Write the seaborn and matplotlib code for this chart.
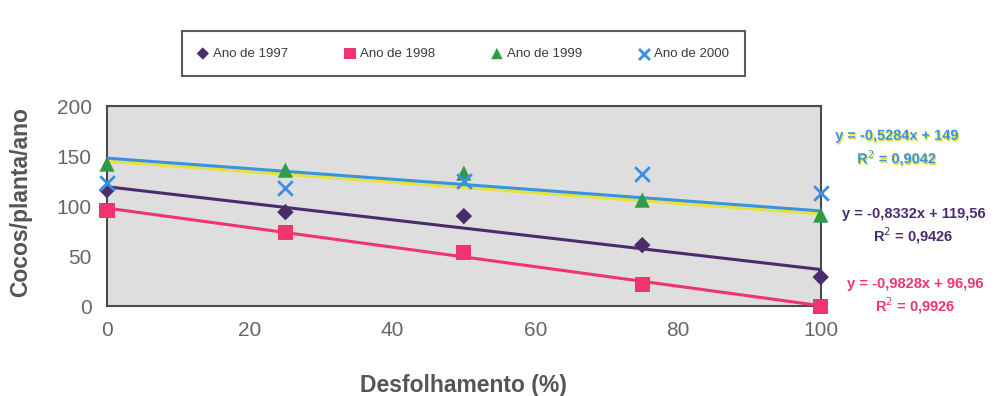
import matplotlib
matplotlib.use("Agg")
import matplotlib.pyplot as plt
import matplotlib.patheffects as pe
from matplotlib.transforms import offset_copy
import pandas as pd
import seaborn as sns

# dados
desfolha = [0, 25, 50, 75, 100]
ano_1997 = [116, 94, 90, 61, 29]
ano_1998 = [96, 74, 54, 22, 0]
ano_1999 = [142, 136, 133, 106, 91]
ano_2000 = [123, 118, 125, 132, 113]

series = {
    "Ano de 1997": ano_1997,
    "Ano de 1998": ano_1998,
    "Ano de 1999": ano_1999,
    "Ano de 2000": ano_2000,
}
equacoes = {
    "Ano de 1999": ("y = -0,5284x + 149", "R$^2$ = 0,9042"),
    "Ano de 1997": ("y = -0,8332x + 119,56", "R$^2$ = 0,9426"),
    "Ano de 1998": ("y = -0,9828x + 96,96", "R$^2$ = 0,9926"),
}

df = pd.DataFrame([(x, y, nome) for nome, vals in series.items() for x, y in zip(desfolha, vals)],
                  columns=["Desfolhamento", "Cocos", "Ano"])

sns.set_style("white")
plt.rcParams["font.family"] = ["Liberation Sans", "DejaVu Sans"]

estilo = {
    "Ano de 1997": dict(marker="D", color="#4a2c6c", s=70),
    "Ano de 1998": dict(marker="s", color="#f0346e", s=120),
    "Ano de 1999": dict(marker="^", color="#2f9a48", s=120),
    "Ano de 2000": dict(marker="x", color="#3b8fe2", s=110, linewidths=2),
}
cor_linha = {"Ano de 1997": "#4a2c6c", "Ano de 1998": "#f0346e", "Ano de 1999": "#3a92e0"}

fig = plt.figure(figsize=(9.96, 3.96), dpi=100)
ax = fig.add_axes([0.1074, 0.227, 0.7166, 0.505])
ax.set_facecolor("#dedede")

# linhas de tendência
for nome in ["Ano de 1999", "Ano de 1997", "Ano de 1998"]:
    sub = df[df["Ano"] == nome]
    if nome == "Ano de 1999":
        # sombra amarela (impressão desalinhada)
        sombra = offset_copy(ax.transData, fig=fig, x=0, y=-3, units="dots")
        sns.regplot(data=sub, x="Desfolhamento", y="Cocos", ax=ax, scatter=False, ci=None,
                    line_kws=dict(color="#e6e23a", lw=2.2, transform=sombra, zorder=2))
    sns.regplot(data=sub, x="Desfolhamento", y="Cocos", ax=ax, scatter=False, ci=None,
                line_kws=dict(color=cor_linha[nome], lw=2.2, zorder=3))

# pontos
for nome in series:
    sub = df[df["Ano"] == nome]
    sns.scatterplot(data=sub, x="Desfolhamento", y="Cocos", ax=ax, label=nome,
                    edgecolor="none" if estilo[nome]["marker"] != "x" else None,
                    clip_on=False, zorder=5, **estilo[nome])

ax.set_xlim(0, 100)
ax.set_ylim(0, 200)
ax.set_xticks([0, 20, 40, 60, 80, 100])
ax.set_yticks([0, 50, 100, 150, 200])
ax.tick_params(axis="both", direction="out", length=5, width=1.2, color="#444",
               labelsize=15, labelcolor="#666", pad=6)
for sp in ax.spines.values():
    sp.set_color("#4a4a4a")
    sp.set_linewidth(1.5)

ax.set_xlabel("Desfolhamento (%)", fontsize=16.5, fontweight="bold", color="#555")
ax.set_ylabel("Cocos/planta/ano", fontsize=16.5, fontweight="bold", color="#555")
ax.xaxis.set_label_coords(0.5, -0.34)
ax.yaxis.set_label_coords(-0.105, 0.52)

leg = ax.legend(loc="center", bbox_to_anchor=(0.5, 1.0 + (0.864 - 0.732) / 0.505), ncol=4,
                frameon=True, fancybox=False, fontsize=9.5, handlelength=0.6,
                handletextpad=0.45, columnspacing=4.4, borderpad=1.25, markerscale=0.75)
leg.get_frame().set_edgecolor("#333")
leg.get_frame().set_linewidth(1.5)
for t in leg.get_texts():
    t.set_color("#3a3a3a")

# equações
pos_eq = {"Ano de 1999": (0.901, 0.657), "Ano de 1997": (0.917, 0.460), "Ano de 1998": (0.919, 0.283)}
for nome, (x, y) in pos_eq.items():
    eq, r2 = equacoes[nome]
    cor = cor_linha[nome]
    efeitos = [pe.withSimplePatchShadow(offset=(0.8, -1.2), shadow_rgbFace="#e6e23a", alpha=1)] \
        if nome == "Ano de 1999" else []
    fig.text(x, y, eq, ha="center", va="center", fontsize=10.5, fontweight="bold", color=cor,
             path_effects=efeitos)
    fig.text(x, y - 0.055, r2, ha="center", va="center", fontsize=10.5, fontweight="bold", color=cor,
             path_effects=efeitos)

fig.savefig("out.png", dpi=100)
